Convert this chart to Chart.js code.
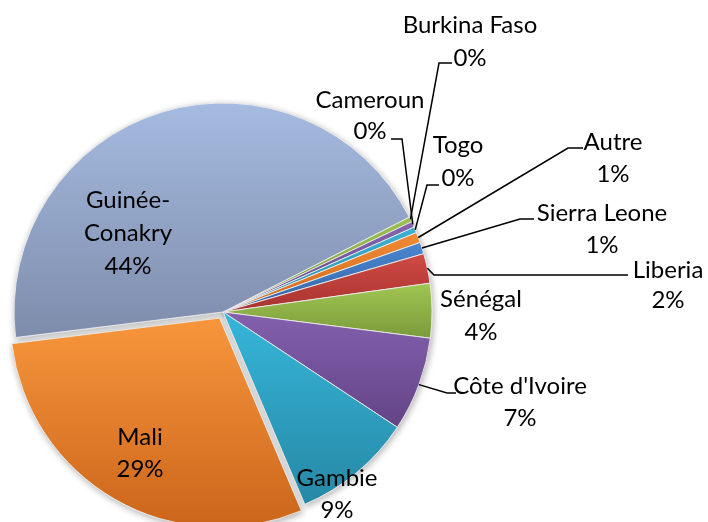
<!DOCTYPE html>
<html>
<head>
<meta charset="utf-8">
<script src="https://cdn.jsdelivr.net/npm/chart.js@4.4.1/dist/chart.umd.min.js"></script>
<style>
    html, body { margin: 0; padding: 0; background: #fff; overflow: hidden; }
    #wrap { position: relative; width: 708px; height: 522px; }
</style>
</head>
<body>
<div id="wrap"><canvas id="pieChart"></canvas></div>
<script>
    // donnees du graphique (ordre horaire, en partant de Burkina Faso)
    var pays = ['Burkina Faso', 'Cameroun', 'Togo', 'Autre', 'Sierra Leone', 'Liberia', 'Sénégal', "Côte d'Ivoire", 'Gambie', 'Mali', 'Guinée-Conakry'];
    var parts = [0.4, 0.45, 0.45, 0.8, 0.9, 2.3, 4.2, 7.3, 9.3, 29.45, 44.45];

    // couleurs : haut / bas du degrade de chaque part
    var couleursHaut = ['#9BC24F', '#8566AE', '#3AB2D2', '#F18A35', '#4A85CF', '#CF4A45', '#A0C652', '#8460AE', '#36B6DA', '#F8963C', '#A5BBE0'];
    var couleursBas = ['#7C9A3E', '#644688', '#2A8CA8', '#CF6A1D', '#3566A8', '#A8332F', '#7B9A3B', '#634487', '#2688A5', '#CB651B', '#7E8CAB'];
    var decalage = [0, 0, 0, 0, 0, 0, 0, 0, 0, 28, 0];

    // position des etiquettes (centre de la 1re ligne, interligne, trait de rappel)
    var positions = [
        { x: 470, y: 25, dy: 33, trait: [452, 63, 439, 63] },
        { x: 370, y: 100, dy: 31, trait: [391, 139, 402, 139] },
        { x: 458, y: 145, dy: 33, trait: [439, 185, 427, 185] },
        { x: 613, y: 142, dy: 32, trait: [583, 148, 568, 148] },
        { x: 602, y: 213, dy: 32, trait: [534, 219, 520, 219] },
        { x: 668, y: 270, dy: 30, trait: [628, 275, 434, 275] },
        { x: 481, y: 299, dy: 33 },
        { x: 520, y: 386, dy: 32, trait: [456, 393, 447, 393] },
        { x: 337, y: 478, dy: 32 },
        { x: 140, y: 437, dy: 32 },
        { x: 128, y: 200, dy: 33, lignes: ['Guinée-', 'Conakry'] }
    ];

    var total = parts.reduce(function (a, b) { return a + b; }, 0);

    function boiteArc(a) {
        var haut = a.y, bas = a.y;
        for (var k = 0; k <= 40; k++) {
            var t = a.startAngle + (a.endAngle - a.startAngle) * k / 40;
            var y = a.y + Math.sin(t) * a.outerRadius;
            if (y < haut) haut = y;
            if (y > bas) bas = y;
        }
        return [haut, bas];
    }

    var degradePlugin = {
        id: 'degrade',
        beforeDatasetsDraw: function (chart) {
            var ctx = chart.ctx;
            var arcs = chart.getDatasetMeta(0).data;
            arcs.forEach(function (a, i) {
                var b = boiteArc(a);
                var g = ctx.createLinearGradient(0, b[0], 0, b[1]);
                g.addColorStop(0, couleursHaut[i]);
                g.addColorStop(1, couleursBas[i]);
                a.options.backgroundColor = g;
            });
            // ombre portee sous le camembert
            ctx.save();
            ctx.shadowColor = 'rgba(0,0,0,0.3)';
            ctx.shadowBlur = 7;
            ctx.shadowOffsetX = 1;
            ctx.shadowOffsetY = 2;
            arcs.forEach(function (a) { a.draw(ctx); });
            ctx.restore();
        }
    };

    var etiquettesPlugin = {
        id: 'etiquettes',
        afterDatasetsDraw: function (chart) {
            var ctx = chart.ctx;
            var arcs = chart.getDatasetMeta(0).data;
            ctx.save();
            ctx.font = '24px Lato';
            ctx.fillStyle = '#000';
            ctx.strokeStyle = '#000';
            ctx.lineWidth = 1.5;
            ctx.textAlign = 'center';
            ctx.textBaseline = 'middle';
            positions.forEach(function (p, i) {
                var lignes = (p.lignes || [pays[i]]).concat([Math.round(parts[i] / total * 100) + '%']);
                lignes.forEach(function (t, k) {
                    ctx.fillText(t, p.x, p.y + k * p.dy);
                });
                if (p.trait) {
                    var a = arcs[i];
                    var mid = (a.startAngle + a.endAngle) / 2;
                    var ax = a.x + Math.cos(mid) * a.outerRadius;
                    var ay = a.y + Math.sin(mid) * a.outerRadius;
                    ctx.beginPath();
                    ctx.moveTo(p.trait[0], p.trait[1]);
                    ctx.lineTo(p.trait[2], p.trait[3]);
                    ctx.lineTo(ax, ay);
                    ctx.stroke();
                }
            });
            ctx.restore();
        }
    };

    var ctx = document.getElementById('pieChart');
    var myChart = new Chart(ctx, {
        type: 'pie',
        data: {
            labels: pays,
            datasets: [{
                data: parts,
                backgroundColor: couleursHaut,
                borderColor: 'rgba(235,235,235,0.9)',
                borderWidth: 1,
                offset: decalage,
                radius: 209
            }]
        },
        options: {
            responsive: true,
            maintainAspectRatio: false,
            animation: false,
            rotation: 63,
            layout: { padding: { left: 0, top: 102, right: 262, bottom: 0 } },
            plugins: {
                legend: { display: false },
                tooltip: { enabled: false }
            }
        },
        plugins: [degradePlugin, etiquettesPlugin]
    });
</script>
</body>
</html>
